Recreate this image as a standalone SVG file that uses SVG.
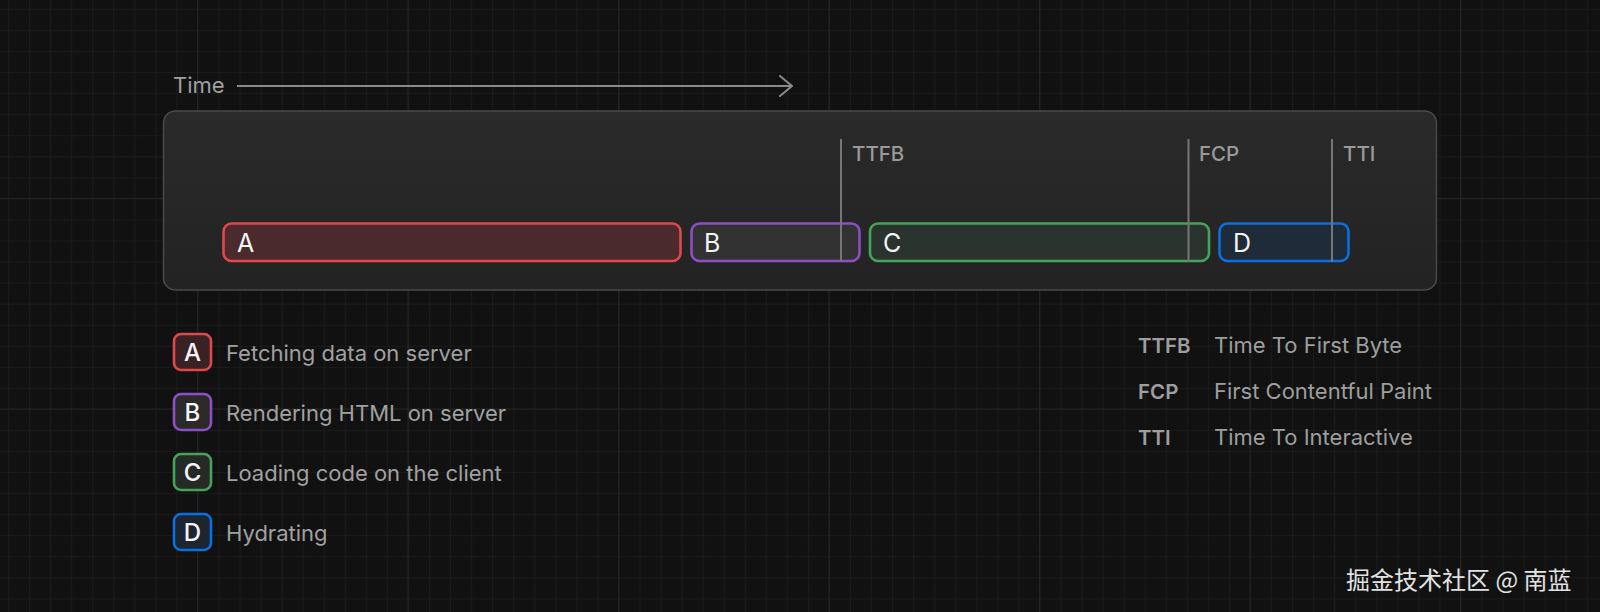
<svg xmlns="http://www.w3.org/2000/svg" width="1600" height="612" viewBox="0 0 1600 612">
<defs>
<pattern id="grid" x="8" y="9" width="21.05" height="21.05" patternUnits="userSpaceOnUse">
<path d="M0.5 0V21.05M0 0.5H21.05" stroke="#1b1b1b" stroke-width="1" fill="none"/>
</pattern>
<pattern id="gridMajor" x="197" y="198" width="210.5" height="210.5" patternUnits="userSpaceOnUse">
<path d="M0.5 0V210.5M0 0.5H210.5" stroke="#252525" stroke-width="1.2" fill="none"/>
</pattern>
<linearGradient id="boxFill" x1="0" y1="0" x2="0" y2="1">
<stop offset="0" stop-color="#2a2a2a"/>
<stop offset="1" stop-color="#232323"/>
</linearGradient>
<marker id="arrow" viewBox="0 0 14 22" refX="13" refY="11" markerWidth="14" markerHeight="22" markerUnits="userSpaceOnUse" orient="auto">
<path d="M1 1L13 11L1 21" fill="none" stroke="#8a8a8a" stroke-width="2" stroke-linecap="round" stroke-linejoin="round"/>
</marker>
<style>
.t{font-family:Inter,"Liberation Sans",sans-serif}
.bar{stroke-width:2.6}
.letter{font-size:25px;fill:#f4f4f4}
.sq{stroke-width:2.6}
.sqL{font-size:24px;fill:#f4f4f4;text-anchor:middle;font-weight:500}
.desc{font-size:22px;fill:#a1a1a1}
.mk{stroke:#767676;stroke-width:2}
.mkL{font-size:20.5px;fill:#9a9a9a;font-weight:500}
.abbr{font-size:20.5px;fill:#9e9e9e;font-weight:600}
.full{font-size:22px;fill:#9e9e9e}
.red{stroke:#e0484e}
.purple{stroke:#8e4ec6}
.green{stroke:#46a35a}
.blue{stroke:#0a6fe0}
</style>
</defs>
<rect width="1600" height="612" fill="#111111"/>
<rect width="1600" height="612" fill="url(#grid)"/>
<rect width="1600" height="612" fill="url(#gridMajor)"/>

<g id="time-axis">
<text class="t" x="173" y="92.5" font-size="22" fill="#a0a0a0">Time</text>
</g>

<g id="timeline-box">
<rect x="163.5" y="111" width="1273" height="179" rx="12" fill="url(#boxFill)" stroke="#4a4a4a" stroke-width="1.5"/>
</g>

<g id="bar-A">
<rect class="bar red" x="223.5" y="223.5" width="457" height="37.5" rx="8" fill="#4a2a2d"/>
<text class="t letter" x="237" y="251.5">A</text>
</g>
<g id="bar-B">
<rect class="bar purple" x="691.5" y="223.5" width="168" height="37.5" rx="8" fill="#323232"/>
<text class="t letter" x="704" y="251.5">B</text>
</g>
<g id="bar-C">
<rect class="bar green" x="870" y="223.5" width="339" height="37.5" rx="8" fill="#2b332e"/>
<text class="t letter" x="883" y="251.5">C</text>
</g>
<g id="bar-D">
<rect class="bar blue" x="1219.5" y="223.5" width="129" height="37.5" rx="8" fill="#1f2b38"/>
<text class="t letter" x="1233" y="251.5">D</text>
</g>

<g id="marker-TTFB">
<text class="t mkL" x="852" y="161">TTFB</text>
</g>
<g id="marker-FCP">
<text class="t mkL" x="1199" y="161">FCP</text>
</g>
<g id="marker-TTI">
<text class="t mkL" x="1343" y="161">TTI</text>
</g>

<g id="connectors">
<line x1="237" y1="86" x2="792" y2="86" stroke="#8a8a8a" stroke-width="2" marker-end="url(#arrow)"/>
<line class="mk" x1="841" y1="139" x2="841" y2="262"/>
<line class="mk" x1="1188.5" y1="139" x2="1188.5" y2="262"/>
<line class="mk" x1="1332" y1="139" x2="1332" y2="262"/>
</g>

<g id="legend-A">
<rect class="sq red" x="174" y="334" width="37" height="36" rx="7" fill="#3a2224"/>
<text class="t sqL" x="192.5" y="361">A</text>
<text class="t desc" x="226" y="360.5">Fetching data on server</text>
</g>
<g id="legend-B">
<rect class="sq purple" x="174" y="394" width="37" height="36" rx="7" fill="#2a2a2a"/>
<text class="t sqL" x="192.5" y="421">B</text>
<text class="t desc" x="226" y="420.5">Rendering HTML on server</text>
</g>
<g id="legend-C">
<rect class="sq green" x="174" y="454" width="37" height="36" rx="7" fill="#252a26"/>
<text class="t sqL" x="192.5" y="481">C</text>
<text class="t desc" x="226" y="480.5">Loading code on the client</text>
</g>
<g id="legend-D">
<rect class="sq blue" x="174" y="514" width="37" height="36" rx="7" fill="#1d2530"/>
<text class="t sqL" x="192.5" y="541">D</text>
<text class="t desc" x="226" y="540.5">Hydrating</text>
</g>

<g id="glossary-TTFB">
<text class="t abbr" x="1138" y="352.5">TTFB</text>
<text class="t full" x="1214" y="352.5">Time To First Byte</text>
</g>
<g id="glossary-FCP">
<text class="t abbr" x="1138" y="398.5">FCP</text>
<text class="t full" x="1214" y="398.5">First Contentful Paint</text>
</g>
<g id="glossary-TTI">
<text class="t abbr" x="1138" y="444.5">TTI</text>
<text class="t full" x="1214" y="444.5">Time To Interactive</text>
</g>

<g id="watermark">
<text x="1346" y="589" font-size="24" fill="#e2e2e2" font-family="'Noto Sans CJK SC','Noto Sans',sans-serif">掘金技术社区 @ 南蓝</text>
</g>
</svg>
